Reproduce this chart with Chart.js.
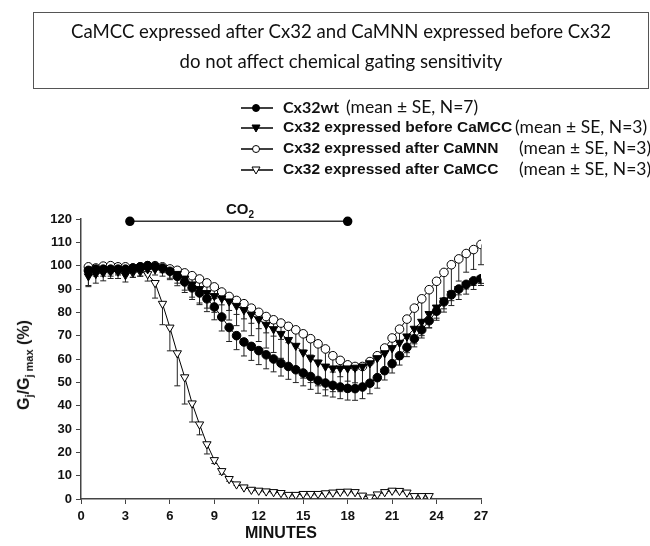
<!DOCTYPE html>
<html>
<head>
<meta charset="utf-8">
<script src="https://cdn.jsdelivr.net/npm/chart.js@4.4.1/dist/chart.umd.min.js"></script>
<style>
  body { margin: 0; background: #fff; }
  #wrap { position: relative; width: 650px; height: 546px; overflow: hidden; }
  #chart { position: absolute; left: 0; top: 0; }
  .titlebox {
    position: absolute; left: 33px; top: 12px; width: 616px; height: 77px;
    border: 1px solid #555; box-sizing: border-box;
    font-family: Lato, "Open Sans", sans-serif; font-size: 18.6px; color: #111;
    text-align: center; line-height: 30px; padding-top: 3px;
  }
  .legend { position: absolute; left: 240px; top: 97px; font-family: "Liberation Sans", Arial, sans-serif; }
  .row { position: absolute; left: 0; height: 20px; white-space: nowrap; }
  .row svg { position: absolute; left: 0; top: 4px; }
  .row .lab { position: absolute; left: 43px; top: 1px; font-weight: bold; font-size: 15.5px; color: #111; }
  .row .se { position: absolute; top: -1px; font-family: Lato, sans-serif; font-size: 17.5px; color: #111; }
  .ylab {
    position: absolute; left: 25px; top: 365px; transform: translate(-50%, -50%) rotate(-90deg);
    font-family: "Liberation Sans", Arial, sans-serif; font-weight: bold; font-size: 16px; white-space: nowrap; color: #111;
  }
  .ylab sub { font-size: 11px; }
  .co2 { position: absolute; left: 240px; top: 210px; transform: translate(-50%, -50%);
    font-family: "Liberation Sans", Arial, sans-serif; font-weight: bold; font-size: 15px; color: #111; }
  .co2 sub { font-size: 10px; }
</style>
</head>
<body>
<div id="wrap">
  <canvas id="chart" width="650" height="546"></canvas>
  <div class="titlebox">CaMCC expressed after Cx32 and CaMNN expressed before Cx32<br>do not affect chemical gating sensitivity</div>
  <div class="legend" id="legend"></div>
  <div class="ylab">G<sub>j</sub>/G<sub>j max</sub> (%)</div>
  <div class="co2">CO<sub>2</sub></div>
</div>
<script>
// time points (minutes)
const minutes = [0.5, 1, 1.5, 2, 2.5, 3, 3.5, 4, 4.5, 5, 5.5, 6, 6.5, 7, 7.5, 8, 8.5, 9, 9.5, 10,
  10.5, 11, 11.5, 12, 12.5, 13, 13.5, 14, 14.5, 15, 15.5, 16, 16.5, 17, 17.5, 18, 18.5, 19, 19.5, 20,
  20.5, 21, 21.5, 22, 22.5, 23, 23.5, 24, 24.5, 25, 25.5, 26, 26.5, 27];

// Cx32wt
const wtMean = [98, 98.5, 98.5, 98.5, 98.5, 98.5, 99, 99.5, 100, 99.7, 99, 97.6, 95.4, 93, 90.5, 88.3, 85.8, 82.3, 78, 73.5,
  70, 67.3, 65.4, 63.6, 61.8, 60, 58.2, 56.8, 55.4, 54, 52.5, 50.8, 49.7, 48.7, 48, 47.4, 47.3, 48, 49.6, 52,
  55, 58, 61.4, 65, 68.7, 72.5, 76.4, 80.5, 84.5, 87.5, 90, 92, 93.5, 94.4];
const wtSE = [2, 2, 2, 2, 2, 2, 2, 1.5, 1.5, 1.5, 2, 3, 4, 4.5, 5, 5, 5.5, 5.5, 6, 6,
  6, 6, 6, 6, 6, 5.5, 5.5, 5.5, 5.5, 5.5, 5.5, 5.5, 5.5, 5, 5, 5, 5, 5, 4.5, 4.5,
  4, 4, 4, 4, 3.5, 3.5, 3, 3, 3, 2.5, 2.5, 2, 2, 2];

// Cx32 expressed before CaMCC
const beforeMean = [95.5, 96.5, 97, 97.5, 97.5, 96, 97.5, 98, 98.5, 98.5, 98.5, 97.5, 96.5, 94.5, 92, 90, 88.3, 87, 86, 84.7,
  82.8, 81, 79, 77, 74.7, 72.8, 70.8, 68.2, 65.7, 62.8, 60.4, 58.5, 56.8, 56, 56, 56, 56.3, 56.8, 58.2, 60.4,
  62.5, 64.7, 67, 69.7, 73, 76, 79.3, 82.1, 85.1, 87.9, 90, 91.8, 93.3, 94.5];
const beforeSE = [4.5, 4, 3.5, 3, 3, 3, 2.5, 2.5, 2.5, 2.5, 3, 3.5, 4, 5, 5.5, 6, 6.5, 7, 7.5, 8,
  8.5, 9, 9, 9.5, 10, 10, 10.5, 11, 11, 11, 10.5, 10, 10, 10, 10, 10, 10, 9.5, 9, 8.5,
  8, 7.5, 7, 7, 6.5, 6, 6, 5.5, 5, 5, 4.5, 4, 3.5, 3];

// Cx32 expressed after CaMNN
const camnnMean = [99.5, 99, 99.8, 100, 99.5, 99.5, 99, 99.5, 100, 100, 99.5, 98.6, 98, 96.9, 95.7, 94.3, 92.6, 90.9, 88.7, 86.8,
  85.1, 83.7, 81.8, 80, 78.2, 76.8, 75.4, 74, 72.5, 70.8, 68.7, 66.5, 64.3, 61.4, 59.4, 57.5, 56.8, 56.8, 58.9, 61.4,
  64.7, 69, 72.8, 77.1, 81.8, 85.8, 89.7, 93.3, 97.1, 100.4, 102.9, 105.2, 106.9, 109.1];
const camnnSE = [1, 1, 1, 1, 1, 1, 1, 1, 1, 1, 1.5, 2, 2.5, 3, 3.5, 4, 4.5, 5, 5.5, 6,
  6, 6.5, 6.5, 7, 7, 7, 7, 7, 7, 7, 7, 7, 7, 7, 7, 7, 7, 7.5, 8, 8.5,
  9, 10, 11, 12, 13, 13, 13, 12.5, 12, 11, 9.5, 8, 8.5, 8.7];

// Cx32 expressed after CaMCC (stops at 23.5 min)
const camccMean = [96.5, 98.5, 97.5, 98.5, 98, 98, 97, 97.5, 96.4, 92.6, 83.7, 73.5, 62.5, 52.2, 41, 32, 23.5, 16.7, 12, 8.6,
  6.3, 5, 4, 3.6, 3.3, 3, 2.6, 1.8, 1.8, 2.2, 2.2, 2.2, 2.5, 2.8, 3.1, 3.2, 3, 1.5, 0.7, 2,
  3, 3.6, 3.5, 2.8, 1.3, 1.3, 1.3];
const camccSE = [5, 3, 2, 3, 2, 2, 2, 2, 3, 6.5, 9, 10, 14, 11.5, 8, 4.5, 4.2, 1.5, 1.4, 1,
  0.5, 0.5, 0.5, 0.5, 0.5, 0.5, 0.5, 0.5, 0.5, 0.5, 0.5, 0.5, 0.5, 0.5, 0.5, 0.5, 0.5, 0.5, 0.5, 0.5,
  0.5, 0.5, 0.5, 0.5, 0.5, 0.5, 0.5];

// CO2 application period (minutes) and the level the bar is drawn at
const co2Period = [3.3, 18];
const co2Level = 119;

const xTicks = [0, 3, 6, 9, 12, 15, 18, 21, 24, 27];

function pts(vals) {
  return vals.map((v, i) => ({ x: minutes[i], y: v }));
}

// ======= LEGEND (HTML) =======
const legendRows = [
  { label: "Cx32wt", n: 7, style: "circle", fill: "#000", seLeft: 106, top: 0, calibri: true },
  { label: "Cx32 expressed before CaMCC", n: 3, style: "tri", fill: "#000", seLeft: 275, top: 20 },
  { label: "Cx32 expressed after CaMNN", n: 3, style: "circle", fill: "#fff", seLeft: 279, top: 41 },
  { label: "Cx32 expressed after CaMCC", n: 3, style: "tri", fill: "#fff", seLeft: 279, top: 62 }
];
const legend = document.getElementById("legend");
legendRows.forEach(r => {
  const row = document.createElement("div");
  row.className = "row";
  row.style.top = r.top + "px";
  const marker = r.style === "circle"
    ? `<circle cx="16" cy="7" r="3.5" fill="${r.fill}" stroke="#000" stroke-width="1"/>`
    : `<polygon points="12,4 20,4 16,11" fill="${r.fill}" stroke="#000" stroke-width="1"/>`;
  row.innerHTML =
    `<svg width="34" height="14"><line x1="1" y1="7" x2="33" y2="7" stroke="#000" stroke-width="1.5"/>${marker}</svg>` +
    `<span class="lab"${r.calibri ? ' style="font-family:Lato,sans-serif;font-size:16px;top:0px"' : ""}>${r.label}</span>` +
    `<span class="se" style="left:${r.seLeft}px">(mean ± SE, N=${r.n})</span>`;
  legend.appendChild(row);
});

// ======= ERROR BARS (downward) =======
const errorBars = {
  id: "errorBars",
  beforeDatasetsDraw(chart) {
    const ctx = chart.ctx;
    const xs = chart.scales.x, ys = chart.scales.y;
    ctx.save();
    ctx.strokeStyle = "#222";
    ctx.lineWidth = 1;
    chart.data.datasets.forEach(ds => {
      if (!ds.se) return;
      ds.data.forEach((p, i) => {
        const px = xs.getPixelForValue(p.x);
        const y1 = ys.getPixelForValue(p.y);
        const y2 = ys.getPixelForValue(p.y - ds.se[i]);
        ctx.beginPath();
        ctx.moveTo(px, y1);
        ctx.lineTo(px, y2);
        ctx.moveTo(px - 3, y2);
        ctx.lineTo(px + 3, y2);
        ctx.stroke();
      });
    });
    ctx.restore();
  }
};

const common = {
  showLine: true,
  borderColor: "#000",
  borderWidth: 1,
  pointBorderColor: "#000",
  pointBorderWidth: 1,
  pointHoverRadius: 4
};

new Chart(document.getElementById("chart"), {
  type: "scatter",
  data: {
    datasets: [
      Object.assign({}, common, {
        label: "Cx32wt", data: pts(wtMean), se: wtSE,
        pointStyle: "circle", pointRadius: 4.3, pointBackgroundColor: "#000", order: 1
      }),
      Object.assign({}, common, {
        label: "Cx32 expressed before CaMCC", data: pts(beforeMean), se: beforeSE,
        pointStyle: "triangle", pointRotation: 180, pointRadius: 4.8, pointBackgroundColor: "#000", order: 2
      }),
      Object.assign({}, common, {
        label: "Cx32 expressed after CaMNN", data: pts(camnnMean), se: camnnSE,
        pointStyle: "circle", pointRadius: 4.3, pointBackgroundColor: "#fff", order: 3
      }),
      Object.assign({}, common, {
        label: "Cx32 expressed after CaMCC", data: pts(camccMean), se: camccSE,
        pointStyle: "triangle", pointRotation: 180, pointRadius: 4.8, pointBackgroundColor: "#fff", order: 4
      }),
      {
        label: "CO2", data: co2Period.map(t => ({ x: t, y: co2Level })),
        showLine: true, borderColor: "#333", borderWidth: 1.5,
        pointRadius: 4, pointBackgroundColor: "#000", pointBorderColor: "#000", clip: false, order: 0
      }
    ]
  },
  options: {
    responsive: false,
    animation: false,
    maintainAspectRatio: false,
    layout: { padding: { left: 0, top: 219, right: 169, bottom: 0 } },
    plugins: { legend: { display: false }, tooltip: { enabled: false } },
    scales: {
      x: {
        type: "linear", min: 0, max: 27,
        afterFit: s => { s.height = 47; },
        afterBuildTicks: s => { s.ticks = xTicks.map(v => ({ value: v })); },
        ticks: { padding: 5, color: "#111", font: { family: "Liberation Sans", weight: "bold", size: 13 } },
        grid: { drawOnChartArea: false, drawTicks: true, tickLength: 5, color: "#444" },
        border: { color: "#444", width: 1.5 },
        title: { display: true, text: "MINUTES", color: "#111", padding: { top: 0, bottom: 3 },
          font: { family: "Liberation Sans", weight: "bold", size: 16 } }
      },
      y: {
        min: 0, max: 120,
        afterFit: s => { s.width = 81; },
        ticks: { stepSize: 10, padding: 4, color: "#111", font: { family: "Liberation Sans", weight: "bold", size: 13 } },
        grid: { drawOnChartArea: false, drawTicks: true, tickLength: 5, color: "#444" },
        border: { color: "#444", width: 1.5 }
      }
    }
  },
  plugins: [errorBars]
});
</script>
</body>
</html>
